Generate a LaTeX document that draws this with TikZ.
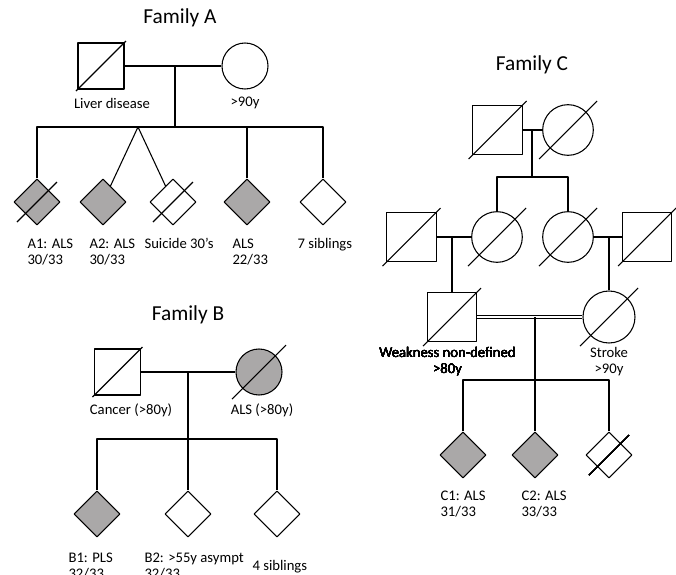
\documentclass[tikz,border=0pt]{standalone}
\usepackage{fontspec}
\setmainfont{Carlito}
\usetikzlibrary{shapes.geometric, calc}
\definecolor{affgray}{RGB}{170,168,168}
\tikzset{
    male/.style={draw, rectangle, minimum size=#1, inner sep=0pt},
    male/.default=34.5pt,
    female/.style={draw, circle, minimum size=#1, inner sep=0pt},
    female/.default=34.5pt,
    unknown/.style={draw, diamond, minimum width=34.5pt, minimum height=34.5pt, inner sep=0pt},
    affected/.style={fill=affgray},
    title/.style={font=\fontsize{16}{19}\selectfont},
    note/.style={font=\fontsize{11}{12}\selectfont, inner sep=0pt, align=left}
}
\newcommand\deceased[2][25]{% half length of the slash, node
    \draw ($(#2)+(-#1,#1)$) -- ($(#2)+(#1,-#1)$);
}

\begin{document}
\begin{tikzpicture}[x=0.75pt, y=-0.75pt, line width=0.8pt, line join=round]
    \useasboundingbox (0,0) rectangle (676,575);

    % Family A
    \node[title] (ta) at (180,18) {Family A};
    \node[male] (afa) at (101,66) {};
    \node[female] (amo) at (245,66) {};
    \coordinate (am) at (175,66);
    \coordinate (asib) at (175,127);
    \coordinate (atw) at (138,127);
    \node[unknown, affected] (a1) at (37,202) {};
    \node[unknown, affected] (a2) at (103,202) {};
    \node[unknown] (a3) at (173,202) {};
    \node[unknown, affected] (a4) at (247,202) {};
    \node[unknown] (a5) at (323,202) {};
    \draw (afa) -- (amo);
    \draw (am) -- (asib);
    \draw (a1) |- (asib) -| (a5);
    \draw (a4) -- (a4 |- asib);
    \draw (a2) -- (atw) -- (a3);
    \deceased{afa}
    \deceased[20]{a1}
    \deceased[20]{a3}
    \node[note] at (112,103) {Liver disease};
    \node[note] at (245,103) {>90y};
    \node[note, anchor=north west] at (27,238) {A1: ALS\\30/33};
    \node[note, anchor=north west] at (89,238) {A2: ALS\\30/33};
    \node[note, anchor=north west] at (144,238) {Suicide 30’s};
    \node[note, anchor=north west] at (232,238) {ALS\\22/33};
    \node[note, anchor=north west] at (297,238) {7 siblings};

    % Family B
    \node[title] (tb) at (188,315) {Family B};
    \node[male] (bfa) at (117.5,372) {};
    \node[female, affected] (bmo) at (259,372) {};
    \coordinate (bm) at (188,372);
    \coordinate (bsib) at (188,439);
    \node[unknown, affected] (b1) at (97,514) {};
    \node[unknown] (b2) at (188,514) {};
    \node[unknown] (b3) at (277,514) {};
    \draw (bfa) -- (bmo);
    \draw (bm) -- (b2);
    \draw (b1) |- (bsib) -| (b3);
    \deceased{bfa}
    \deceased[27]{bmo}
    \node[note] at (131,410) {Cancer (>80y)};
    \node[note] at (262,410) {ALS (>80y)};
    \node[note, anchor=north west] at (68,552) {B1: PLS\\32/33};
    \node[note, anchor=north west] at (144,552) {B2: >55y asympt\\32/33};
    \node[note, anchor=north west] at (252,560) {4 siblings};

    % Family C
    \node[title] (tc) at (532,65) {Family C};
    \node[male=37pt] (c1) at (497.5,130) {};
    \node[female=38pt] (c2) at (568,130) {};
    \coordinate (cm1) at (532,130);
    \coordinate (csib1) at (532,177);
    \node[female=38pt] (c3) at (497,237) {};
    \node[female=38pt] (c4) at (568,237) {};
    \node[male=37pt] (c5) at (411.5,237) {};
    \node[male=37pt] (c6) at (647,237) {};
    \coordinate (cm2) at (452,237);
    \coordinate (cm3) at (609,237);
    \node[male=37pt] (c7) at (452,317) {};
    \node[female=39pt] (c8) at (609,317) {};
    \coordinate (cm4) at (535,317);
    \coordinate (csib4) at (535,380);
    \node[unknown, affected] (c9) at (463,455) {};
    \node[unknown, affected] (c10) at (535,455) {};
    \node[unknown] (c11) at (609,455) {};
    \draw (c1) -- (c2);
    \draw (cm1) -- (csib1);
    \draw (c3) |- (csib1) -| (c4);
    \draw (c5) -- (c3);
    \draw (c4) -- (c6);
    \draw (cm2) -- (c7);
    \draw (cm3) -- (c8);
    \draw[double, double distance=1.8pt, line width=0.7pt] (c7) -- (c8);
    \draw (cm4) -- (c10);
    \draw (c9) |- (csib4) -| (c11);
    \foreach \n in {c1,c2,c3,c4,c5,c6,c7,c8}
        \deceased[29]{\n}
    \deceased[20]{c11}
    \node[note, anchor=north, align=center] (cw) at (447.5,346.5) {Weakness non-defined\\>80y};
    \node[note, anchor=north, align=center] (cs) at (609,346.5) {Stroke\\>90y};
    \node[note, anchor=north west] at (440,490) {C1: ALS\\31/33};
    \node[note, anchor=north west] at (521,490) {C2: ALS\\33/33};
\end{tikzpicture}
\end{document}
